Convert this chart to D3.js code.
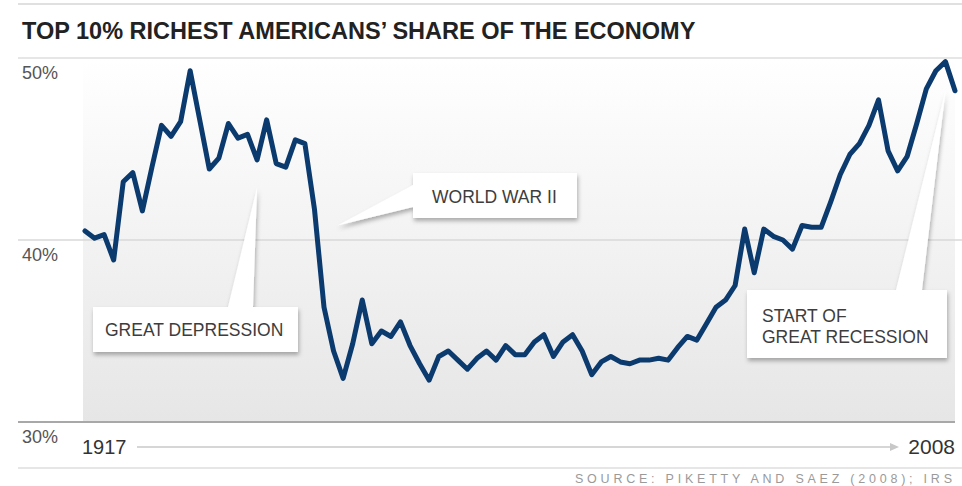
<html>
<head>
  <meta charset="utf-8">
  <title>Top 10% share</title>
  <script src="https://cdn.jsdelivr.net/npm/d3@7"></script>
  <style>
    body { margin: 0; background: #fff; }
    text { font-family: "Liberation Sans", Arial, sans-serif; }
  </style>
</head>
<body>
<script>
// Data: top decile income share (%), 1917 - 2008
const years = d3.range(1917, 2009);
const shares = [
  40.5, 40.1, 40.3, 38.9, 43.2, 43.7, 41.6, 44.0, 46.3, 45.7,
  46.5, 49.3, 46.6, 43.9, 44.5, 46.4, 45.6, 45.8, 44.4, 46.6,
  44.2, 44.0, 45.5, 45.3, 41.7, 36.3, 33.9, 32.4, 34.3, 36.7,
  34.3, 35.0, 34.7, 35.5, 34.2, 33.2, 32.3, 33.6, 33.9, 33.4,
  32.9, 33.5, 33.9, 33.4, 34.2, 33.7, 33.7, 34.4, 34.8, 33.6,
  34.4, 34.8, 33.9, 32.6, 33.3, 33.6, 33.3, 33.2, 33.4, 33.4,
  33.5, 33.4, 34.1, 34.7, 34.5, 35.4, 36.3, 36.7, 37.5, 40.6,
  38.2, 40.6, 40.2, 40.0, 39.5, 40.8, 40.7, 40.7, 42.1, 43.6,
  44.7, 45.3, 46.3, 47.7, 44.9, 43.8, 44.6, 46.4, 48.3, 49.3,
  49.8, 48.2
];
const yTicks = [30, 40, 50];
const tickLabels = ["30%", "40%", "50%"];

// Callouts: where the pointer lands (year, share) and the text
const noteNames = ["GREAT DEPRESSION", "WORLD WAR II", "START OF|GREAT RECESSION"];
const noteYears = [1935, 1943.4, 2007];
const noteShares = [42.9, 40.8, 48.2];

const w = 962, h = 486;
const svg = d3.select("body").append("svg").attr("width", w).attr("height", h);

const x = d3.scaleLinear().domain([1917, 2008]).range([85, 955]);
const y = d3.scaleLinear().domain([30, 50]).range([422, 58]);

const defs = svg.append("defs");
const grad = defs.append("linearGradient").attr("id", "bg")
  .attr("x1", 0).attr("y1", 0).attr("x2", 0).attr("y2", 1);
grad.append("stop").attr("offset", "0%").attr("stop-color", "#ffffff");
grad.append("stop").attr("offset", "100%").attr("stop-color", "#e6e6e6");

const shadow = defs.append("filter").attr("id", "shadow")
  .attr("x", "-20%").attr("y", "-20%").attr("width", "140%").attr("height", "150%");
shadow.append("feDropShadow").attr("dx", 1).attr("dy", 3)
  .attr("stdDeviation", 2).attr("flood-color", "#000").attr("flood-opacity", 0.3);

// top rule and title
svg.append("line").attr("x1", 18).attr("x2", w).attr("y1", 4).attr("y2", 4)
  .attr("stroke", "#e0e0e0").attr("stroke-width", 2);
svg.append("text").attr("x", 22).attr("y", 39)
  .attr("font-size", "23.5px").attr("font-weight", "bold").attr("fill", "#222")
  .text("TOP 10% RICHEST AMERICANS’ SHARE OF THE ECONOMY");

// plot background
svg.append("rect").attr("x", 83).attr("y", y(50)).attr("width", 955 - 83)
  .attr("height", y(30) - y(50)).attr("fill", "url(#bg)");

// gridlines
svg.selectAll("line.grid").data(yTicks).enter().append("line")
  .attr("class", "grid")
  .attr("x1", 18)
  .attr("x2", d => d === 30 ? 955 : w)
  .attr("y1", d => y(d)).attr("y2", d => y(d))
  .attr("stroke", d => d === 30 ? "#a8a8a8" : (d === 50 ? "#dedede" : "#d8d8d8"))
  .attr("stroke-width", d => d === 30 ? 2 : 1.5);

svg.selectAll("text.tick").data(yTicks).enter().append("text")
  .attr("class", "tick")
  .attr("x", 22).attr("y", d => y(d) + 21)
  .attr("font-size", "18px").attr("fill", "#555")
  .text((d, i) => tickLabels[i]);

// callouts (drawn before the line so the line stays on top)
function boxPath(b) {
  if (b.side === "top") {
    return `M${b.x0},${b.y0} L${b.p0},${b.y0} L${b.tx},${b.ty} L${b.p1},${b.y0} L${b.x1},${b.y0} L${b.x1},${b.y1} L${b.x0},${b.y1} Z`;
  }
  return `M${b.x0},${b.y0} L${b.x1},${b.y0} L${b.x1},${b.y1} L${b.x0},${b.y1} L${b.x0},${b.p1} L${b.tx},${b.ty} L${b.x0},${b.p0} Z`;
}
const boxes = [
  { x0: 93, y0: 307, x1: 298, y1: 352, side: "top", p0: 228, p1: 253, tx: 105, lines: [336] },
  { x0: 413, y0: 173, x1: 577, y1: 218, side: "left", p0: 185, p1: 207, tx: 432, lines: [203] },
  { x0: 747, y0: 290, x1: 947, y1: 358, side: "top", p0: 896, p1: 922, tx: 762, lines: [322, 343] }
];
boxes.forEach(function(b, i) {
  const g = svg.append("g");
  const tip = { tx: x(noteYears[i]), ty: y(noteShares[i]) };
  g.append("path").attr("d", boxPath(Object.assign({}, b, tip)))
    .attr("fill", "#fff").attr("filter", "url(#shadow)");
  noteNames[i].split("|").forEach(function(t, j) {
    g.append("text").attr("x", b.tx).attr("y", b.lines[j])
      .attr("font-size", "17.5px").attr("fill", "#3d3d3d").text(t);
  });
});

// the line
const line = d3.line()
  .x((d, i) => x(years[i]))
  .y(d => y(d));
svg.append("path").datum(shares)
  .attr("d", line)
  .attr("fill", "none")
  .attr("stroke", "#0b3a6e")
  .attr("stroke-width", 5)
  .attr("stroke-linejoin", "round")
  .attr("stroke-linecap", "round");

// year range under the chart
svg.append("text").attr("x", 82).attr("y", 454)
  .attr("font-size", "20px").attr("fill", "#333").text(years[0]);
svg.append("text").attr("x", 955).attr("y", 454).attr("text-anchor", "end")
  .attr("font-size", "21px").attr("fill", "#333").text(years[years.length - 1]);
svg.append("line").attr("x1", 137).attr("x2", 892).attr("y1", 447).attr("y2", 447)
  .attr("stroke", "#c8c8c8").attr("stroke-width", 1.5);
svg.append("path").attr("d", "M890,443 L899,447 L890,451 Z").attr("fill", "#c8c8c8");

// bottom rule and source
svg.append("line").attr("x1", 18).attr("x2", w).attr("y1", 468).attr("y2", 468)
  .attr("stroke", "#e6e6e6").attr("stroke-width", 2);
svg.append("text").attr("x", 952).attr("y", 483).attr("text-anchor", "end")
  .attr("font-family", "'DejaVu Sans Mono', monospace")
  .attr("font-size", "12.5px").attr("fill", "#9a9a9a")
  .attr("textLength", 377).attr("lengthAdjust", "spacing")
  .text("SOURCE: PIKETTY AND SAEZ (2008); IRS");
</script>
</body>
</html>
